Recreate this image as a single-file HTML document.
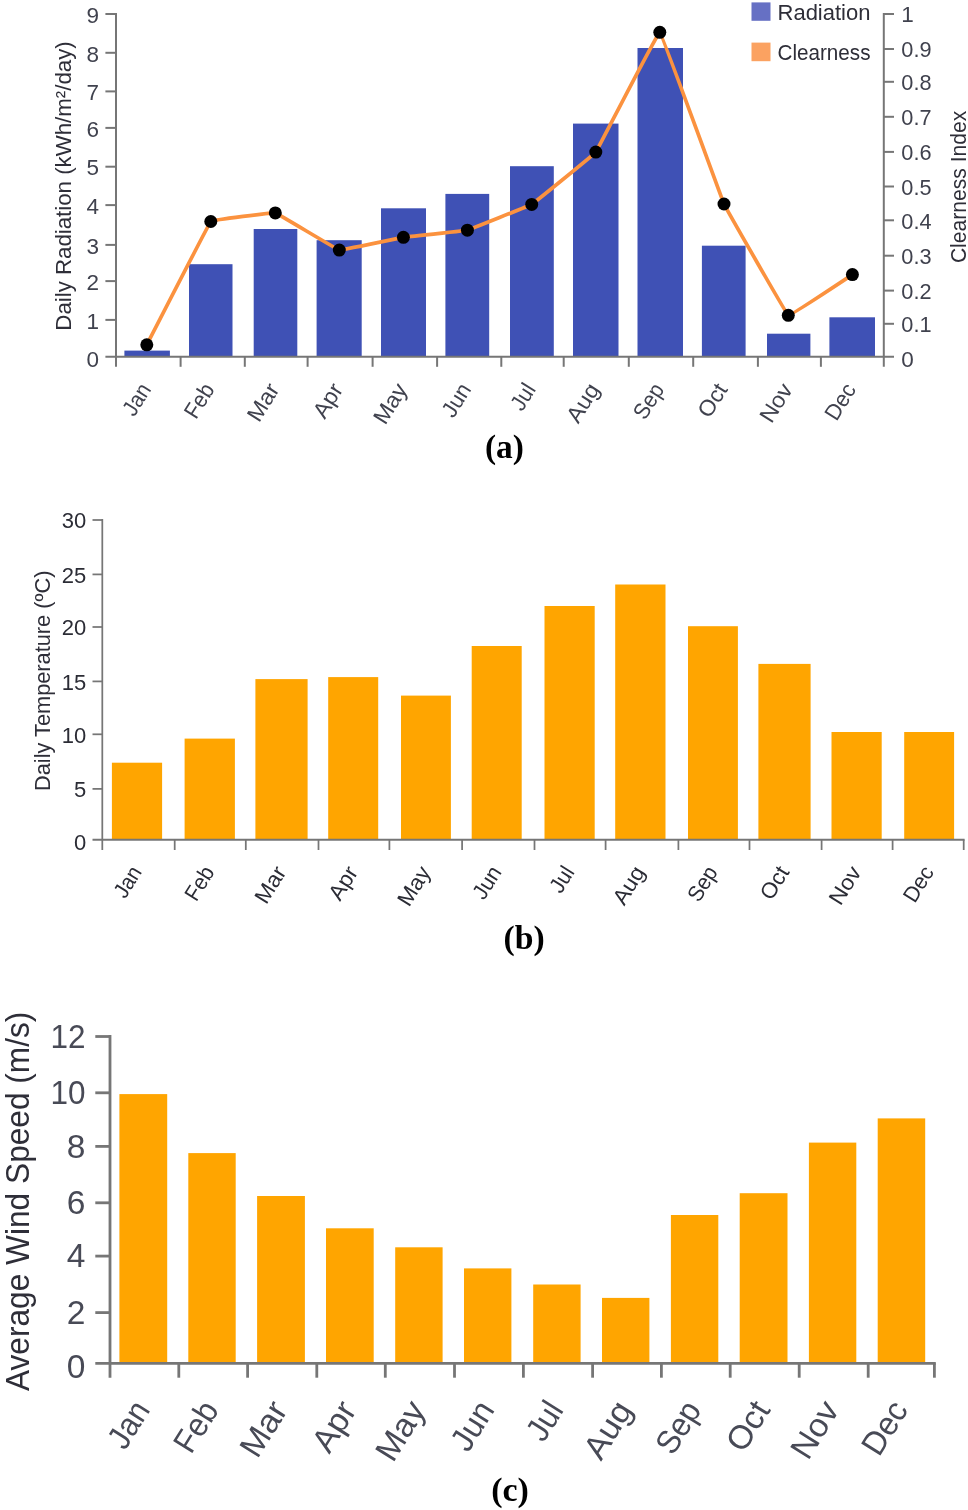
<!DOCTYPE html>
<html lang="en">
<head>
<meta charset="utf-8">
<title>Monthly radiation, temperature and wind speed</title>
<style>
html,body{margin:0;padding:0;background:#fff;}
body{width:968px;height:1510px;overflow:hidden;}
svg{display:block;}
text.s,text.t{font-family:"Liberation Sans",sans-serif;fill:#2e2e38;}
text.t{fill:#40424e;}
text.tb{fill:#2b2c35;}
text.tc{fill:#484a56;}
text.cap{font-family:"Liberation Serif",serif;font-weight:bold;fill:#000;}
</style>
</head>
<body>
<svg width="968" height="1510" viewBox="0 0 968 1510">
<rect x="0" y="0" width="968" height="1510" fill="#ffffff"/>
<g id="chart-a">
<rect x="124.4" y="350.6" width="45.5" height="6.2" fill="#3f51b5"/>
<rect x="189" y="264.2" width="43.5" height="92.6" fill="#3f51b5"/>
<rect x="253.7" y="229" width="43.6" height="127.8" fill="#3f51b5"/>
<rect x="316.6" y="240.2" width="45.1" height="116.6" fill="#3f51b5"/>
<rect x="381" y="208.3" width="45" height="148.5" fill="#3f51b5"/>
<rect x="445.4" y="193.9" width="43.8" height="162.9" fill="#3f51b5"/>
<rect x="510" y="166.2" width="43.8" height="190.6" fill="#3f51b5"/>
<rect x="573" y="123.6" width="45.5" height="233.2" fill="#3f51b5"/>
<rect x="637.5" y="48" width="45.5" height="308.8" fill="#3f51b5"/>
<rect x="701.9" y="245.7" width="43.7" height="111.1" fill="#3f51b5"/>
<rect x="767" y="333.7" width="43.4" height="23.1" fill="#3f51b5"/>
<rect x="829.4" y="317.3" width="45.6" height="39.5" fill="#3f51b5"/>
<path d="M146.8 344.8 C147.65 343.16 209.09 223.26 210.8 221.5 C212.51 219.74 273.59 212.52 275.3 212.9 C277.01 213.28 337.59 249.77 339.3 250.1 C341.01 250.43 401.69 237.57 403.4 237.3 C405.11 237.03 465.69 230.64 467.4 230.2 C469.11 229.76 529.99 205.44 531.7 204.4 C533.41 203.36 594.09 154.39 595.8 152.1 C597.51 149.81 658.09 31.61 659.8 32.3 C661.51 32.99 722.29 200.23 724 204 C725.71 207.77 786.59 314.36 788.3 315.3 C790.01 316.24 851.55 275.14 852.4 274.6" fill="none" stroke="#fb923f" stroke-width="3.7" stroke-linejoin="round" stroke-linecap="round"/>
<circle cx="146.8" cy="344.8" r="6.5" fill="#000"/>
<circle cx="210.8" cy="221.5" r="6.5" fill="#000"/>
<circle cx="275.3" cy="212.9" r="6.5" fill="#000"/>
<circle cx="339.3" cy="250.1" r="6.5" fill="#000"/>
<circle cx="403.4" cy="237.3" r="6.5" fill="#000"/>
<circle cx="467.4" cy="230.2" r="6.5" fill="#000"/>
<circle cx="531.7" cy="204.4" r="6.5" fill="#000"/>
<circle cx="595.8" cy="152.1" r="6.5" fill="#000"/>
<circle cx="659.8" cy="32.3" r="6.5" fill="#000"/>
<circle cx="724" cy="204" r="6.5" fill="#000"/>
<circle cx="788.3" cy="315.3" r="6.5" fill="#000"/>
<circle cx="852.4" cy="274.6" r="6.5" fill="#000"/>
<line x1="116" y1="13" x2="116" y2="366.8" stroke="#767676" stroke-width="2"/>
<line x1="883.8" y1="13" x2="883.8" y2="366.8" stroke="#767676" stroke-width="2"/>
<line x1="105.4" y1="356.8" x2="894" y2="356.8" stroke="#767676" stroke-width="2"/>
<line x1="180.6" y1="356.8" x2="180.6" y2="366.8" stroke="#767676" stroke-width="2"/>
<line x1="244.8" y1="356.8" x2="244.8" y2="366.8" stroke="#767676" stroke-width="2"/>
<line x1="307.6" y1="356.8" x2="307.6" y2="366.8" stroke="#767676" stroke-width="2"/>
<line x1="372.6" y1="356.8" x2="372.6" y2="366.8" stroke="#767676" stroke-width="2"/>
<line x1="437.1" y1="356.8" x2="437.1" y2="366.8" stroke="#767676" stroke-width="2"/>
<line x1="501.3" y1="356.8" x2="501.3" y2="366.8" stroke="#767676" stroke-width="2"/>
<line x1="563.7" y1="356.8" x2="563.7" y2="366.8" stroke="#767676" stroke-width="2"/>
<line x1="628.8" y1="356.8" x2="628.8" y2="366.8" stroke="#767676" stroke-width="2"/>
<line x1="693.2" y1="356.8" x2="693.2" y2="366.8" stroke="#767676" stroke-width="2"/>
<line x1="757.9" y1="356.8" x2="757.9" y2="366.8" stroke="#767676" stroke-width="2"/>
<line x1="820.9" y1="356.8" x2="820.9" y2="366.8" stroke="#767676" stroke-width="2"/>
<line x1="105.4" y1="319.9" x2="116" y2="319.9" stroke="#767676" stroke-width="2"/>
<line x1="105.4" y1="281.1" x2="116" y2="281.1" stroke="#767676" stroke-width="2"/>
<line x1="105.4" y1="244.9" x2="116" y2="244.9" stroke="#767676" stroke-width="2"/>
<line x1="105.4" y1="205.1" x2="116" y2="205.1" stroke="#767676" stroke-width="2"/>
<line x1="105.4" y1="166.7" x2="116" y2="166.7" stroke="#767676" stroke-width="2"/>
<line x1="105.4" y1="127.9" x2="116" y2="127.9" stroke="#767676" stroke-width="2"/>
<line x1="105.4" y1="91.4" x2="116" y2="91.4" stroke="#767676" stroke-width="2"/>
<line x1="105.4" y1="52.8" x2="116" y2="52.8" stroke="#767676" stroke-width="2"/>
<line x1="105.4" y1="14" x2="116" y2="14" stroke="#767676" stroke-width="2"/>
<line x1="883.8" y1="323.8" x2="894" y2="323.8" stroke="#767676" stroke-width="2"/>
<line x1="883.8" y1="290.6" x2="894" y2="290.6" stroke="#767676" stroke-width="2"/>
<line x1="883.8" y1="255.7" x2="894" y2="255.7" stroke="#767676" stroke-width="2"/>
<line x1="883.8" y1="220.3" x2="894" y2="220.3" stroke="#767676" stroke-width="2"/>
<line x1="883.8" y1="186.5" x2="894" y2="186.5" stroke="#767676" stroke-width="2"/>
<line x1="883.8" y1="151.9" x2="894" y2="151.9" stroke="#767676" stroke-width="2"/>
<line x1="883.8" y1="116.8" x2="894" y2="116.8" stroke="#767676" stroke-width="2"/>
<line x1="883.8" y1="81.8" x2="894" y2="81.8" stroke="#767676" stroke-width="2"/>
<line x1="883.8" y1="49" x2="894" y2="49" stroke="#767676" stroke-width="2"/>
<line x1="883.8" y1="14" x2="894" y2="14" stroke="#767676" stroke-width="2"/>
<text class="t" x="98.9" y="367.2" font-size="22.5" text-anchor="end">0</text>
<text class="t" x="98.9" y="328.6" font-size="22.5" text-anchor="end">1</text>
<text class="t" x="98.9" y="289.8" font-size="22.5" text-anchor="end">2</text>
<text class="t" x="98.9" y="253.6" font-size="22.5" text-anchor="end">3</text>
<text class="t" x="98.9" y="213.8" font-size="22.5" text-anchor="end">4</text>
<text class="t" x="98.9" y="175.4" font-size="22.5" text-anchor="end">5</text>
<text class="t" x="98.9" y="136.6" font-size="22.5" text-anchor="end">6</text>
<text class="t" x="98.9" y="100.1" font-size="22.5" text-anchor="end">7</text>
<text class="t" x="98.9" y="61.5" font-size="22.5" text-anchor="end">8</text>
<text class="t" x="98.9" y="22.7" font-size="22.5" text-anchor="end">9</text>
<text class="t" x="901.3" y="367.1" font-size="22.5">0</text>
<text class="t" x="901.3" y="332.2" font-size="22.5" textLength="30.2" lengthAdjust="spacingAndGlyphs">0.1</text>
<text class="t" x="901.3" y="299" font-size="22.5" textLength="30.2" lengthAdjust="spacingAndGlyphs">0.2</text>
<text class="t" x="901.3" y="264.1" font-size="22.5" textLength="30.2" lengthAdjust="spacingAndGlyphs">0.3</text>
<text class="t" x="901.3" y="228.7" font-size="22.5" textLength="30.2" lengthAdjust="spacingAndGlyphs">0.4</text>
<text class="t" x="901.3" y="194.9" font-size="22.5" textLength="30.2" lengthAdjust="spacingAndGlyphs">0.5</text>
<text class="t" x="901.3" y="160.3" font-size="22.5" textLength="30.2" lengthAdjust="spacingAndGlyphs">0.6</text>
<text class="t" x="901.3" y="125.2" font-size="22.5" textLength="30.2" lengthAdjust="spacingAndGlyphs">0.7</text>
<text class="t" x="901.3" y="90.2" font-size="22.5" textLength="30.2" lengthAdjust="spacingAndGlyphs">0.8</text>
<text class="t" x="901.3" y="57.4" font-size="22.5" textLength="30.2" lengthAdjust="spacingAndGlyphs">0.9</text>
<text class="t" x="901.3" y="22.4" font-size="22.5">1</text>
<text class="t" x="151.75" y="389.3" font-size="22.5" text-anchor="end" transform="rotate(-58 151.75 389.3)" textLength="33.13" lengthAdjust="spacingAndGlyphs">Jan</text>
<text class="t" x="215.35" y="389.3" font-size="22.5" text-anchor="end" transform="rotate(-58 215.35 389.3)" textLength="36.46" lengthAdjust="spacingAndGlyphs">Feb</text>
<text class="t" x="280.1" y="389.3" font-size="22.5" text-anchor="end" transform="rotate(-58 280.1 389.3)" textLength="40.01" lengthAdjust="spacingAndGlyphs">Mar</text>
<text class="t" x="343.75" y="389.3" font-size="22.5" text-anchor="end" transform="rotate(-58 343.75 389.3)" textLength="36.05" lengthAdjust="spacingAndGlyphs">Apr</text>
<text class="t" x="408.1" y="389.3" font-size="22.5" text-anchor="end" transform="rotate(-58 408.1 389.3)" textLength="43" lengthAdjust="spacingAndGlyphs">May</text>
<text class="t" x="471.9" y="389.3" font-size="22.5" text-anchor="end" transform="rotate(-58 471.9 389.3)" textLength="34.91" lengthAdjust="spacingAndGlyphs">Jun</text>
<text class="t" x="536.5" y="389.3" font-size="22.5" text-anchor="end" transform="rotate(-58 536.5 389.3)" textLength="27.04" lengthAdjust="spacingAndGlyphs">Jul</text>
<text class="t" x="600.35" y="389.3" font-size="22.5" text-anchor="end" transform="rotate(-58 600.35 389.3)" textLength="41.5" lengthAdjust="spacingAndGlyphs">Aug</text>
<text class="t" x="664.85" y="389.3" font-size="22.5" text-anchor="end" transform="rotate(-58 664.85 389.3)" textLength="37.44" lengthAdjust="spacingAndGlyphs">Sep</text>
<text class="t" x="728.35" y="389.3" font-size="22.5" text-anchor="end" transform="rotate(-58 728.35 389.3)" textLength="35.45" lengthAdjust="spacingAndGlyphs">Oct</text>
<text class="t" x="793.3" y="389.3" font-size="22.5" text-anchor="end" transform="rotate(-58 793.3 389.3)" textLength="41.34" lengthAdjust="spacingAndGlyphs">Nov</text>
<text class="t" x="856.8" y="389.3" font-size="22.5" text-anchor="end" transform="rotate(-58 856.8 389.3)" textLength="38.44" lengthAdjust="spacingAndGlyphs">Dec</text>
<text class="s" x="71" y="186" font-size="22.7" text-anchor="middle" transform="rotate(-90 71 186)" textLength="289.4" lengthAdjust="spacingAndGlyphs">Daily Radiation (kWh/m²/day)</text>
<text class="s" x="965.9" y="186.9" font-size="22.7" text-anchor="middle" transform="rotate(-90 965.9 186.9)" textLength="152.4" lengthAdjust="spacingAndGlyphs">Clearness Index</text>
<rect x="751.5" y="2.4" width="19" height="18.4" fill="#6670c4"/>
<rect x="751.5" y="42.6" width="19" height="18.6" fill="#fba261"/>
<text class="s" x="777.5" y="20.2" font-size="22.5" textLength="93" lengthAdjust="spacingAndGlyphs">Radiation</text>
<text class="s" x="777.5" y="60.3" font-size="22.5" textLength="93" lengthAdjust="spacingAndGlyphs">Clearness</text>
<text class="cap" x="504.4" y="457.6" font-size="33.4" text-anchor="middle">(a)</text>
</g>
<g id="chart-b">
<rect x="111.9" y="762.7" width="50.2" height="76.9" fill="#ffa500"/>
<rect x="184.6" y="738.6" width="50.3" height="101" fill="#ffa500"/>
<rect x="255.4" y="679.1" width="52.2" height="160.5" fill="#ffa500"/>
<rect x="328.2" y="677.1" width="50" height="162.5" fill="#ffa500"/>
<rect x="401" y="695.6" width="49.9" height="144" fill="#ffa500"/>
<rect x="471.7" y="646" width="50" height="193.6" fill="#ffa500"/>
<rect x="544.5" y="606" width="50.2" height="233.6" fill="#ffa500"/>
<rect x="615.2" y="584.5" width="50.3" height="255.1" fill="#ffa500"/>
<rect x="688" y="626.2" width="49.9" height="213.4" fill="#ffa500"/>
<rect x="758.4" y="663.9" width="52.2" height="175.7" fill="#ffa500"/>
<rect x="831.5" y="732" width="50.2" height="107.6" fill="#ffa500"/>
<rect x="904.2" y="732" width="49.9" height="107.6" fill="#ffa500"/>
<line x1="102.3" y1="519.12" x2="102.3" y2="850" stroke="#767676" stroke-width="1.75"/>
<line x1="92.5" y1="839.8" x2="964.58" y2="839.8" stroke="#767676" stroke-width="2"/>
<line x1="174.7" y1="839.6" x2="174.7" y2="850" stroke="#767676" stroke-width="1.75"/>
<line x1="245.8" y1="839.6" x2="245.8" y2="850" stroke="#767676" stroke-width="1.75"/>
<line x1="318.5" y1="839.6" x2="318.5" y2="850" stroke="#767676" stroke-width="1.75"/>
<line x1="389.4" y1="839.6" x2="389.4" y2="850" stroke="#767676" stroke-width="1.75"/>
<line x1="462.1" y1="839.6" x2="462.1" y2="850" stroke="#767676" stroke-width="1.75"/>
<line x1="534.5" y1="839.6" x2="534.5" y2="850" stroke="#767676" stroke-width="1.75"/>
<line x1="605.6" y1="839.6" x2="605.6" y2="850" stroke="#767676" stroke-width="1.75"/>
<line x1="678.4" y1="839.6" x2="678.4" y2="850" stroke="#767676" stroke-width="1.75"/>
<line x1="749.5" y1="839.6" x2="749.5" y2="850" stroke="#767676" stroke-width="1.75"/>
<line x1="821.6" y1="839.6" x2="821.6" y2="850" stroke="#767676" stroke-width="1.75"/>
<line x1="892.6" y1="839.6" x2="892.6" y2="850" stroke="#767676" stroke-width="1.75"/>
<line x1="963.7" y1="839.6" x2="963.7" y2="850" stroke="#767676" stroke-width="1.75"/>
<line x1="92.5" y1="788.9" x2="102.3" y2="788.9" stroke="#767676" stroke-width="1.75"/>
<line x1="92.5" y1="734.3" x2="102.3" y2="734.3" stroke="#767676" stroke-width="1.75"/>
<line x1="92.5" y1="681.4" x2="102.3" y2="681.4" stroke="#767676" stroke-width="1.75"/>
<line x1="92.5" y1="627" x2="102.3" y2="627" stroke="#767676" stroke-width="1.75"/>
<line x1="92.5" y1="574.4" x2="102.3" y2="574.4" stroke="#767676" stroke-width="1.75"/>
<line x1="92.5" y1="520" x2="102.3" y2="520" stroke="#767676" stroke-width="1.75"/>
<text class="t tb" x="86.3" y="849.5" font-size="22" text-anchor="end">0</text>
<text class="t tb" x="86.3" y="797.2" font-size="22" text-anchor="end">5</text>
<text class="t tb" x="86.3" y="742.6" font-size="22" text-anchor="end">10</text>
<text class="t tb" x="86.3" y="689.7" font-size="22" text-anchor="end">15</text>
<text class="t tb" x="86.3" y="635.3" font-size="22" text-anchor="end">20</text>
<text class="t tb" x="86.3" y="582.7" font-size="22" text-anchor="end">25</text>
<text class="t tb" x="86.3" y="528.3" font-size="22" text-anchor="end">30</text>
<text class="t tb" x="142.5" y="872" font-size="22" text-anchor="end" transform="rotate(-58 142.5 872)" textLength="32.55" lengthAdjust="spacingAndGlyphs">Jan</text>
<text class="t tb" x="215.25" y="872" font-size="22" text-anchor="end" transform="rotate(-58 215.25 872)" textLength="35.82" lengthAdjust="spacingAndGlyphs">Feb</text>
<text class="t tb" x="287" y="872" font-size="22" text-anchor="end" transform="rotate(-58 287 872)" textLength="39.31" lengthAdjust="spacingAndGlyphs">Mar</text>
<text class="t tb" x="358.7" y="872" font-size="22" text-anchor="end" transform="rotate(-58 358.7 872)" textLength="35.41" lengthAdjust="spacingAndGlyphs">Apr</text>
<text class="t tb" x="431.45" y="872" font-size="22" text-anchor="end" transform="rotate(-58 431.45 872)" textLength="42.25" lengthAdjust="spacingAndGlyphs">May</text>
<text class="t tb" x="502.2" y="872" font-size="22" text-anchor="end" transform="rotate(-58 502.2 872)" textLength="34.29" lengthAdjust="spacingAndGlyphs">Jun</text>
<text class="t tb" x="575.1" y="872" font-size="22" text-anchor="end" transform="rotate(-58 575.1 872)" textLength="26.57" lengthAdjust="spacingAndGlyphs">Jul</text>
<text class="t tb" x="645.85" y="872" font-size="22" text-anchor="end" transform="rotate(-58 645.85 872)" textLength="40.77" lengthAdjust="spacingAndGlyphs">Aug</text>
<text class="t tb" x="718.45" y="872" font-size="22" text-anchor="end" transform="rotate(-58 718.45 872)" textLength="36.78" lengthAdjust="spacingAndGlyphs">Sep</text>
<text class="t tb" x="790" y="872" font-size="22" text-anchor="end" transform="rotate(-58 790 872)" textLength="34.83" lengthAdjust="spacingAndGlyphs">Oct</text>
<text class="t tb" x="862.1" y="872" font-size="22" text-anchor="end" transform="rotate(-58 862.1 872)" textLength="40.61" lengthAdjust="spacingAndGlyphs">Nov</text>
<text class="t tb" x="934.65" y="872" font-size="22" text-anchor="end" transform="rotate(-58 934.65 872)" textLength="37.77" lengthAdjust="spacingAndGlyphs">Dec</text>
<text class="s" x="50.1" y="680.8" font-size="22.2" text-anchor="middle" transform="rotate(-90 50.1 680.8)" textLength="220.4" lengthAdjust="spacingAndGlyphs">Daily Temperature (ºC)</text>
<text class="cap" x="524.2" y="948.6" font-size="33.7" text-anchor="middle">(b)</text>
</g>
<g id="chart-c">
<rect x="119.4" y="1094.1" width="47.8" height="269.2" fill="#ffa500"/>
<rect x="188.3" y="1153.1" width="47.4" height="210.2" fill="#ffa500"/>
<rect x="257.1" y="1196" width="47.8" height="167.3" fill="#ffa500"/>
<rect x="326" y="1228.3" width="47.7" height="135" fill="#ffa500"/>
<rect x="395.2" y="1247.3" width="47.4" height="116" fill="#ffa500"/>
<rect x="464" y="1268.4" width="47.4" height="94.9" fill="#ffa500"/>
<rect x="533.2" y="1284.5" width="47.4" height="78.8" fill="#ffa500"/>
<rect x="602" y="1297.9" width="47.4" height="65.4" fill="#ffa500"/>
<rect x="670.9" y="1215" width="47.4" height="148.3" fill="#ffa500"/>
<rect x="739.7" y="1193.2" width="47.8" height="170.1" fill="#ffa500"/>
<rect x="808.9" y="1142.6" width="47.4" height="220.7" fill="#ffa500"/>
<rect x="877.7" y="1118.4" width="47.5" height="244.9" fill="#ffa500"/>
<line x1="110" y1="1035.1" x2="110" y2="1377.7" stroke="#767676" stroke-width="2.8"/>
<line x1="95.3" y1="1363.3" x2="935.8" y2="1363.3" stroke="#767676" stroke-width="2.8"/>
<line x1="178.8" y1="1363.3" x2="178.8" y2="1377.7" stroke="#767676" stroke-width="2.8"/>
<line x1="247.6" y1="1363.3" x2="247.6" y2="1377.7" stroke="#767676" stroke-width="2.8"/>
<line x1="316.8" y1="1363.3" x2="316.8" y2="1377.7" stroke="#767676" stroke-width="2.8"/>
<line x1="385.3" y1="1363.3" x2="385.3" y2="1377.7" stroke="#767676" stroke-width="2.8"/>
<line x1="454.5" y1="1363.3" x2="454.5" y2="1377.7" stroke="#767676" stroke-width="2.8"/>
<line x1="523.4" y1="1363.3" x2="523.4" y2="1377.7" stroke="#767676" stroke-width="2.8"/>
<line x1="592.6" y1="1363.3" x2="592.6" y2="1377.7" stroke="#767676" stroke-width="2.8"/>
<line x1="661.4" y1="1363.3" x2="661.4" y2="1377.7" stroke="#767676" stroke-width="2.8"/>
<line x1="730.2" y1="1363.3" x2="730.2" y2="1377.7" stroke="#767676" stroke-width="2.8"/>
<line x1="799.2" y1="1363.3" x2="799.2" y2="1377.7" stroke="#767676" stroke-width="2.8"/>
<line x1="868.2" y1="1363.3" x2="868.2" y2="1377.7" stroke="#767676" stroke-width="2.8"/>
<line x1="934.4" y1="1363.3" x2="934.4" y2="1377.7" stroke="#767676" stroke-width="2.8"/>
<line x1="95.3" y1="1312.6" x2="110" y2="1312.6" stroke="#767676" stroke-width="2.8"/>
<line x1="95.3" y1="1256.1" x2="110" y2="1256.1" stroke="#767676" stroke-width="2.8"/>
<line x1="95.3" y1="1202.8" x2="110" y2="1202.8" stroke="#767676" stroke-width="2.8"/>
<line x1="95.3" y1="1146.4" x2="110" y2="1146.4" stroke="#767676" stroke-width="2.8"/>
<line x1="95.3" y1="1092.8" x2="110" y2="1092.8" stroke="#767676" stroke-width="2.8"/>
<line x1="95.3" y1="1036.5" x2="110" y2="1036.5" stroke="#767676" stroke-width="2.8"/>
<text class="t tc" x="85.4" y="1377.5" font-size="33.5" text-anchor="end">0</text>
<text class="t tc" x="85.4" y="1323.8" font-size="33.5" text-anchor="end">2</text>
<text class="t tc" x="85.4" y="1267.3" font-size="33.5" text-anchor="end">4</text>
<text class="t tc" x="85.4" y="1214" font-size="33.5" text-anchor="end">6</text>
<text class="t tc" x="85.4" y="1157.6" font-size="33.5" text-anchor="end">8</text>
<text class="t tc" x="85.4" y="1104" font-size="33.5" text-anchor="end" textLength="35" lengthAdjust="spacingAndGlyphs">10</text>
<text class="t tc" x="85.4" y="1047.7" font-size="33.5" text-anchor="end" textLength="35" lengthAdjust="spacingAndGlyphs">12</text>
<text class="t tc" x="150.9" y="1409.8" font-size="33" text-anchor="end" transform="rotate(-58 150.9 1409.8)" textLength="48.82" lengthAdjust="spacingAndGlyphs">Jan</text>
<text class="t tc" x="219.6" y="1409.8" font-size="33" text-anchor="end" transform="rotate(-58 219.6 1409.8)" textLength="53.73" lengthAdjust="spacingAndGlyphs">Feb</text>
<text class="t tc" x="288.6" y="1409.8" font-size="33" text-anchor="end" transform="rotate(-58 288.6 1409.8)" textLength="58.97" lengthAdjust="spacingAndGlyphs">Mar</text>
<text class="t tc" x="357.45" y="1409.8" font-size="33" text-anchor="end" transform="rotate(-58 357.45 1409.8)" textLength="53.12" lengthAdjust="spacingAndGlyphs">Apr</text>
<text class="t tc" x="426.5" y="1409.8" font-size="33" text-anchor="end" transform="rotate(-58 426.5 1409.8)" textLength="63.37" lengthAdjust="spacingAndGlyphs">May</text>
<text class="t tc" x="495.3" y="1409.8" font-size="33" text-anchor="end" transform="rotate(-58 495.3 1409.8)" textLength="51.44" lengthAdjust="spacingAndGlyphs">Jun</text>
<text class="t tc" x="564.5" y="1409.8" font-size="33" text-anchor="end" transform="rotate(-58 564.5 1409.8)" textLength="39.85" lengthAdjust="spacingAndGlyphs">Jul</text>
<text class="t tc" x="633.3" y="1409.8" font-size="33" text-anchor="end" transform="rotate(-58 633.3 1409.8)" textLength="61.15" lengthAdjust="spacingAndGlyphs">Aug</text>
<text class="t tc" x="702.2" y="1409.8" font-size="33" text-anchor="end" transform="rotate(-58 702.2 1409.8)" textLength="55.17" lengthAdjust="spacingAndGlyphs">Sep</text>
<text class="t tc" x="771.2" y="1409.8" font-size="33" text-anchor="end" transform="rotate(-58 771.2 1409.8)" textLength="52.25" lengthAdjust="spacingAndGlyphs">Oct</text>
<text class="t tc" x="840.2" y="1409.8" font-size="33" text-anchor="end" transform="rotate(-58 840.2 1409.8)" textLength="60.92" lengthAdjust="spacingAndGlyphs">Nov</text>
<text class="t tc" x="909.05" y="1409.8" font-size="33" text-anchor="end" transform="rotate(-58 909.05 1409.8)" textLength="56.65" lengthAdjust="spacingAndGlyphs">Dec</text>
<text class="s" x="29.1" y="1201.3" font-size="33" text-anchor="middle" transform="rotate(-90 29.1 1201.3)" textLength="379.4" lengthAdjust="spacingAndGlyphs">Average Wind Speed (m/s)</text>
<text class="cap" x="510" y="1500.6" font-size="34" text-anchor="middle">(c)</text>
</g>
</svg>
</body>
</html>
